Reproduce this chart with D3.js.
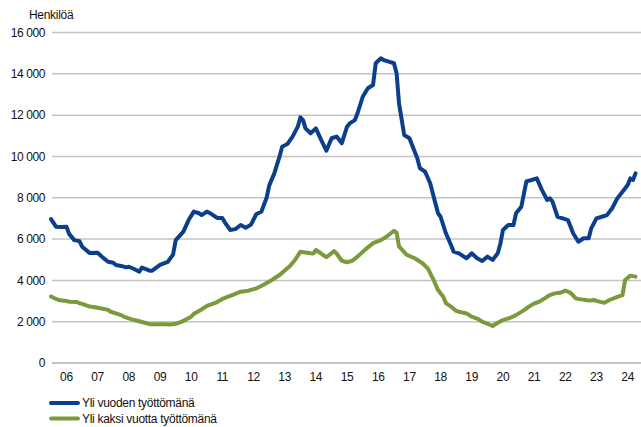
<!DOCTYPE html>
<html>
<head>
<meta charset="utf-8">
<script src="https://cdn.jsdelivr.net/npm/d3@7"></script>
<style>
  html, body { margin: 0; padding: 0; background: #fff; }
  svg text { font-family: "Liberation Sans", Arial, sans-serif; fill: #111; }
</style>
</head>
<body>
<svg id="chart" width="641" height="427"></svg>
<script>
// ---- Data ----
const yAxisTitle = "Henkilöä";
const yTicks = [0, 2000, 4000, 6000, 8000, 10000, 12000, 14000, 16000];
const xTickYears = [2006, 2007, 2008, 2009, 2010, 2011, 2012, 2013, 2014, 2015, 2016, 2017, 2018, 2019, 2020, 2021, 2022, 2023, 2024];
const seriesNames = ["Yli vuoden työttömänä", "Yli kaksi vuotta työttömänä"];
const seriesColors = ["#0b3f8c", "#7a9a3c"];

const overOneYearDates = ["2006-01","2006-03","2006-05","2006-07","2006-08","2006-10","2006-12","2007-01","2007-04","2007-07","2007-09","2007-11","2008-01","2008-02","2008-04","2008-06","2008-07","2008-09","2008-11","2008-12","2009-02","2009-03","2009-04","2009-07","2009-10","2009-12","2010-01","2010-04","2010-06","2010-08","2010-10","2010-11","2011-01","2011-03","2011-05","2011-07","2011-08","2011-10","2011-12","2012-02","2012-04","2012-06","2012-08","2012-10","2012-12","2013-01","2013-03","2013-05","2013-06","2013-08","2013-10","2013-12","2014-01","2014-02","2014-03","2014-05","2014-07","2014-09","2014-11","2015-01","2015-03","2015-05","2015-07","2015-08","2015-10","2015-11","2016-01","2016-03","2016-05","2016-06","2016-08","2016-09","2016-11","2017-01","2017-02","2017-03","2017-05","2017-07","2017-08","2017-10","2017-11","2018-01","2018-03","2018-05","2018-06","2018-07","2018-09","2018-11","2018-12","2019-02","2019-05","2019-07","2019-09","2019-11","2020-01","2020-03","2020-05","2020-06","2020-07","2020-09","2020-11","2020-12","2021-02","2021-04","2021-06","2021-08","2021-10","2021-12","2022-01","2022-02","2022-04","2022-06","2022-08","2022-10","2022-12","2023-02","2023-04","2023-05","2023-07","2023-09","2023-11","2024-01","2024-03","2024-05","2024-07","2024-08","2024-09","2024-10"];
const overOneYearValues = [6970,6600,6580,6600,6250,5950,5900,5630,5320,5340,5100,4900,4850,4740,4700,4630,4660,4550,4420,4620,4520,4470,4470,4750,4900,5250,5950,6360,6920,7330,7250,7160,7330,7200,7020,7020,6800,6440,6480,6680,6550,6700,7200,7330,8000,8600,9180,9990,10470,10600,10960,11440,11890,11760,11360,11120,11360,10800,10280,10880,10960,10640,11440,11600,11760,12090,12890,13300,13460,14510,14750,14670,14590,14510,14020,12570,11040,10880,10550,9910,9430,9260,8700,7730,7250,7080,6280,5700,5390,5310,5070,5310,5070,4940,5150,4990,5310,5790,6440,6680,6680,7250,7570,8790,8860,8940,8370,7890,7970,7810,7080,7000,6920,6280,5870,6040,6040,6520,7000,7080,7160,7490,7970,8290,8620,8940,8860,9180];

const overTwoYearsDates = ["2006-01","2006-03","2006-04","2006-07","2006-08","2006-11","2006-12","2007-01","2007-04","2007-06","2007-08","2007-11","2007-12","2008-02","2008-04","2008-05","2008-07","2008-09","2008-11","2009-01","2009-03","2009-05","2009-07","2009-09","2009-11","2010-01","2010-03","2010-05","2010-07","2010-08","2010-10","2011-01","2011-03","2011-05","2011-07","2011-10","2011-12","2012-02","2012-05","2012-08","2012-11","2013-02","2013-05","2013-09","2013-11","2014-01","2014-03","2014-05","2014-06","2014-07","2014-09","2014-11","2015-02","2015-03","2015-05","2015-07","2015-09","2015-11","2016-02","2016-05","2016-08","2016-10","2017-01","2017-02","2017-03","2017-06","2017-09","2017-12","2018-02","2018-04","2018-06","2018-08","2018-09","2018-11","2019-01","2019-02","2019-05","2019-07","2019-09","2019-11","2020-01","2020-03","2020-05","2020-07","2020-10","2020-12","2021-03","2021-05","2021-07","2021-09","2021-11","2022-01","2022-03","2022-05","2022-07","2022-09","2022-11","2023-01","2023-03","2023-04","2023-06","2023-08","2023-10","2023-12","2024-02","2024-05","2024-06","2024-08","2024-10"];
const overTwoYearsValues = [3220,3100,3050,3000,2970,2950,2890,2860,2730,2700,2650,2570,2480,2400,2320,2250,2160,2080,2020,1950,1880,1870,1870,1880,1860,1900,1980,2100,2240,2380,2520,2760,2850,2950,3100,3250,3350,3450,3500,3610,3800,4020,4260,4700,5000,5390,5350,5310,5300,5470,5300,5120,5420,5300,4950,4880,4950,5150,5500,5800,5950,6100,6400,6300,5650,5230,5070,4830,4580,4100,3530,3210,2900,2730,2520,2480,2400,2240,2150,2000,1900,1790,1950,2080,2200,2320,2550,2730,2880,2970,3130,3290,3370,3400,3500,3400,3130,3080,3050,3020,3050,2970,2920,3050,3150,3290,4020,4230,4180];

// ---- Build ----
const parse = d3.timeParse("%Y-%m");
const series = [
  { name: seriesNames[0], color: seriesColors[0], points: overOneYearDates.map((d, i) => ({ date: parse(d), value: overOneYearValues[i] })) },
  { name: seriesNames[1], color: seriesColors[1], points: overTwoYearsDates.map((d, i) => ({ date: parse(d), value: overTwoYearsValues[i] })) }
];

const svg = d3.select("#chart");
const x = d3.scaleTime()
  .domain([new Date(2006, 0, 1), new Date(2025, 0, 1)])
  .range([51, 643.4]);
const y = d3.scaleLinear().domain([0, 16000]).range([363, 32.5]);

const fmt = v => v === 0 ? "0" : d3.format(",")(v).replace(/,/g, " ");

// gridlines
svg.append("g")
  .selectAll("line")
  .data(yTicks)
  .join("line")
  .attr("x1", 52).attr("x2", 641)
  .attr("y1", d => y(d)).attr("y2", d => y(d))
  .attr("stroke", "#c4c4c4")
  .attr("stroke-width", d => d === 0 ? 2 : 1.5);

// y axis labels
svg.append("g")
  .selectAll("text")
  .data(yTicks)
  .join("text")
  .attr("x", 45)
  .attr("y", d => y(d))
  .attr("dy", "0.36em")
  .attr("text-anchor", "end")
  .attr("font-size", 12)
  .attr("letter-spacing", -0.4)
  .text(fmt);

svg.append("text")
  .attr("x", 29).attr("y", 19)
  .attr("font-size", 12)
  .attr("letter-spacing", -0.3)
  .text(yAxisTitle);

// x axis labels
svg.append("g")
  .selectAll("text")
  .data(xTickYears)
  .join("text")
  .attr("x", d => x(new Date(d, 6, 1)))
  .attr("y", 377)
  .attr("dy", "0.36em")
  .attr("text-anchor", "middle")
  .attr("font-size", 12)
  .attr("letter-spacing", -0.3)
  .text(d => d3.timeFormat("%y")(new Date(d, 0, 1)));

// lines
const line = d3.line()
  .x(d => x(d.date))
  .y(d => y(d.value))
  .curve(d3.curveLinear);

svg.append("g")
  .selectAll("path")
  .data(series.slice().reverse())
  .join("path")
  .attr("d", d => line(d.points))
  .attr("fill", "none")
  .attr("stroke", d => d.color)
  .attr("stroke-width", 4)
  .attr("stroke-linejoin", "round")
  .attr("stroke-linecap", "round");

// legend
const legend = svg.append("g")
  .selectAll("g")
  .data(series)
  .join("g")
  .attr("transform", (d, i) => `translate(0, ${403 + i * 15.5})`);
legend.append("line")
  .attr("x1", 51).attr("x2", 78)
  .attr("y1", 0).attr("y2", 0)
  .attr("stroke", d => d.color)
  .attr("stroke-width", 4)
  .attr("stroke-linecap", "round");
legend.append("text")
  .attr("x", 82).attr("y", 0)
  .attr("dy", "0.36em")
  .attr("font-size", 12)
  .attr("letter-spacing", -0.3)
  .text(d => d.name);
</script>
</body>
</html>
